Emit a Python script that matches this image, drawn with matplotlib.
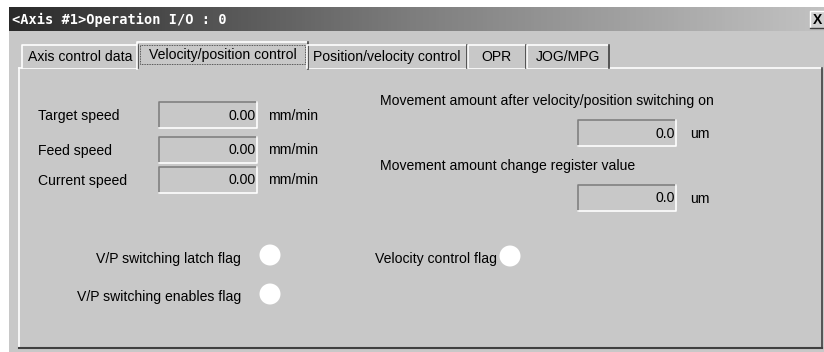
import matplotlib.pyplot as plt
import matplotlib.patches as mpatches
import numpy as np

title = "<Axis #1>Operation I/O : 0"
tab_names = ["Axis control data", "Velocity/position control", "Position/velocity control", "OPR", "JOG/MPG"]
tab_edges = [22, 139, 307, 468, 527, 610]
selected_tab = 1

speed_labels = ["Target speed", "Feed speed", "Current speed"]
speed_values = ["0.00", "0.00", "0.00"]
speed_unit = "mm/min"

move_labels = ["Movement amount after velocity/position switching on",
               "Movement amount change register value"]
move_values = ["0.0", "0.0"]
move_unit = "um"

flag_labels = ["V/P switching latch flag", "V/P switching enables flag", "Velocity control flag"]

BG = "#c8c8c8"
FONT = "Liberation Sans"
FS = 10.1

fig = plt.figure(figsize=(8.24, 3.52), dpi=100)
fig.patch.set_facecolor("white")
ax = fig.add_axes([0, 0, 1, 1])
ax.set_xlim(0, 824)
ax.set_ylim(352, 0)
ax.axis("off")

# dialog body
ax.add_patch(mpatches.Rectangle((9, 31), 815, 321, facecolor=BG, edgecolor="none"))

# title bar gradient
grad = np.linspace(0, 1, 256).reshape(1, -1)
ax.imshow(grad, extent=[9, 824, 31, 7], cmap=plt.matplotlib.colors.LinearSegmentedColormap.from_list(
    "tb", ["#2a2a2a", "#7e7e7e", "#c2c2c2"]), aspect="auto", zorder=1)
ax.text(12, 19.5, title, color="white", fontsize=9.8, fontweight="bold",
        family="DejaVu Sans Mono", va="center", ha="left", zorder=3)
# close button
ax.add_patch(mpatches.Rectangle((810, 11), 15, 17, facecolor="#d0d0d0", edgecolor="none", zorder=2))
ax.plot([810, 810, 825], [28, 11, 11], color="white", lw=1, zorder=3)
ax.plot([810, 825], [28, 28], color="#404040", lw=1, zorder=3)
ax.text(818, 20, "X", fontsize=10, fontweight="bold", family=FONT, ha="center", va="center", zorder=3)

# tab panel
ax.add_patch(mpatches.Rectangle((19, 68), 803, 280, facecolor=BG, edgecolor="none", zorder=1))
ax.plot([19, 19], [348, 68], color="white", lw=1.2, zorder=2)
ax.plot([19, 822], [68, 68], color="white", lw=1.2, zorder=2)
ax.plot([19, 822], [347.5, 347.5], color="#404040", lw=1.5, zorder=2)
ax.plot([822, 822], [68, 348], color="#404040", lw=1.2, zorder=2)

# tabs
for i, name in enumerate(tab_names):
    x0, x1 = tab_edges[i], tab_edges[i + 1] - 1
    if i == selected_tab:
        y0, y1 = 42, 69
        x0 -= 2
        x1 += 2
    else:
        y0, y1 = 45, 68
    ax.add_patch(mpatches.Rectangle((x0, y0), x1 - x0, y1 - y0, facecolor=BG, edgecolor="none", zorder=3))
    ax.plot([x0, x0, x1], [y1, y0, y0], color="white", lw=1.2, zorder=4)
    ax.plot([x1, x1], [y0, y1], color="#404040", lw=1.2, zorder=4)
    ty = 57 if i != selected_tab else 55
    ax.text((x0 + x1) / 2, ty, name, fontsize=FS, family=FONT, ha="center", va="center", zorder=5)
    if i == selected_tab:
        ax.add_patch(mpatches.Rectangle((x0 + 3, y0 + 3), x1 - x0 - 6, y1 - y0 - 8, facecolor="none",
                                        edgecolor="#303030", lw=0.6, ls=(0, (1, 1)), zorder=5))


def field(x, y, w, h, value):
    ax.add_patch(mpatches.Rectangle((x, y), w, h, facecolor=BG, edgecolor="none", zorder=3))
    ax.plot([x, x, x + w], [y + h, y, y], color="#808080", lw=1.2, zorder=4)
    ax.plot([x, x + w, x + w], [y + h, y + h, y], color="white", lw=1.2, zorder=4)
    ax.text(x + w - 1, y + h / 2 + 0.5, value, fontsize=FS, family=FONT, ha="right", va="center", zorder=5)


# speed fields
speed_y = [102, 137, 167]
for lbl, val, y in zip(speed_labels, speed_values, speed_y):
    ax.text(38, y + 14, lbl, fontsize=FS, family=FONT, ha="left", va="center", zorder=5)
    field(159, y, 98, 26, val)
    ax.text(268, y + 13.5, speed_unit, fontsize=FS, family=FONT, ha="left", va="center", zorder=5)

# movement fields
move_y = [101, 166]
for lbl, val, y in zip(move_labels, move_values, move_y):
    ax.text(380, y, lbl, fontsize=FS, family=FONT, ha="left", va="center", zorder=5)
    field(578, y + 19, 98, 26, val)
    ax.text(690, y + 33, move_unit, fontsize=FS, family=FONT, ha="left", va="center", zorder=5)

# flags
flag_pos = [(241, 259, 270, 255), (241, 297, 270, 294), (497, 259, 510, 256)]
for lbl, (tx, ty, cx, cy) in zip(flag_labels, flag_pos):
    ax.text(tx, ty, lbl, fontsize=FS, family=FONT, ha="right", va="center", zorder=5)
    ax.add_patch(mpatches.Circle((cx, cy), 10.5, facecolor="white", edgecolor="none", zorder=5))

fig.savefig("out.png", dpi=100, facecolor=fig.get_facecolor())
